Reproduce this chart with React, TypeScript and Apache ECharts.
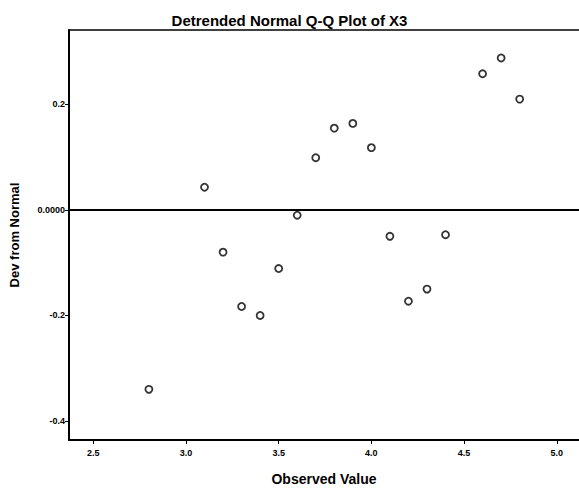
import React, { useEffect, useRef } from "react";
import * as echarts from "echarts";

const observed = [2.8, 3.1, 3.2, 3.3, 3.4, 3.5, 3.6, 3.7, 3.8, 3.9, 4.0, 4.1, 4.2, 4.3, 4.4, 4.6, 4.7, 4.8];
const devFromNormal = [-0.34, 0.043, -0.08, -0.183, -0.2, -0.111, -0.01, 0.099, 0.155, 0.164, 0.118, -0.05, -0.173, -0.15, -0.047, 0.258, 0.288, 0.21];
const xTicks = [2.5, 3.0, 3.5, 4.0, 4.5, 5.0];
const yTicks = [-0.4, -0.2, 0, 0.2];
const yTickLabels = ["-0.4", "-0.2", "0.0000", "0.2"];

const FONT = "'Liberation Sans', Arial, sans-serif";

export default function App() {
  const ref = useRef<HTMLDivElement>(null);
  useEffect(() => {
    if (!ref.current) return;
    const chart = echarts.init(ref.current, null, { renderer: "svg" });
    const points = observed.map((x, i) => [x, devFromNormal[i]]);
    const xMin = 2.369;
    const xMax = 5.12;
    chart.setOption({
      animation: false,
      backgroundColor: "#ffffff",
      title: {
        text: "Detrended Normal Q-Q Plot of X3",
        left: "center",
        top: 8,
        textStyle: { fontFamily: FONT, fontSize: 15, fontWeight: "bold", color: "#000" },
      },
      grid: { left: 68, top: 30, right: 0, bottom: 53 },
      xAxis: [
        {
          type: "value",
          min: xMin,
          max: xMax,
          name: "Observed Value",
          nameLocation: "middle",
          nameGap: 32,
          nameTextStyle: { fontFamily: FONT, fontSize: 14, fontWeight: "bold", color: "#000" },
          splitLine: { show: false },
          axisLine: { show: true, onZero: false, lineStyle: { color: "#000", width: 2 } },
          axisTick: { show: true, length: 4, customValues: xTicks, lineStyle: { color: "#000", width: 1 } },
          axisLabel: {
            customValues: xTicks,
            formatter: (v: number) => v.toFixed(1),
            fontFamily: FONT,
            fontSize: 9,
            fontWeight: "bold",
            color: "#000",
            margin: 8,
          },
        },
        {
          type: "value",
          position: "top",
          min: xMin,
          max: xMax,
          splitLine: { show: false },
          axisLine: { show: true, onZero: false, lineStyle: { color: "#000", width: 1.5 } },
          axisTick: { show: false },
          axisLabel: { show: false },
        },
      ],
      yAxis: {
        type: "value",
        min: -0.436,
        max: 0.341,
        name: "Dev from Normal",
        nameLocation: "middle",
        nameGap: 48,
        nameTextStyle: { fontFamily: FONT, fontSize: 13, fontWeight: "bold", color: "#000" },
        splitLine: { show: false },
        axisLine: { show: true, onZero: false, lineStyle: { color: "#000", width: 2 } },
        axisTick: { show: true, length: 4, customValues: yTicks, lineStyle: { color: "#000", width: 1 } },
        axisLabel: {
          customValues: yTicks,
          formatter: (v: number) => {
            const i = yTicks.findIndex((t) => Math.abs(t - v) < 1e-9);
            return i >= 0 ? yTickLabels[i] : "";
          },
          fontFamily: FONT,
          fontSize: 9,
          fontWeight: "bold",
          color: "#000",
          margin: 4,
        },
      },
      series: [
        {
          type: "scatter",
          data: points,
          symbol: "circle",
          symbolSize: 7,
          itemStyle: { color: "#fff", borderColor: "#000", borderWidth: 1.8 },
          markLine: {
            silent: true,
            symbol: ["none", "none"],
            label: { show: false },
            lineStyle: { color: "#000", width: 2, type: "solid" },
            data: [{ yAxis: 0 }],
          },
        },
      ],
    });
    return () => chart.dispose();
  }, []);
  return (
    <div
      ref={ref}
      style={{ position: "fixed", left: 0, top: 0, width: 579, height: 493, background: "#fff" }}
    />
  );
}
